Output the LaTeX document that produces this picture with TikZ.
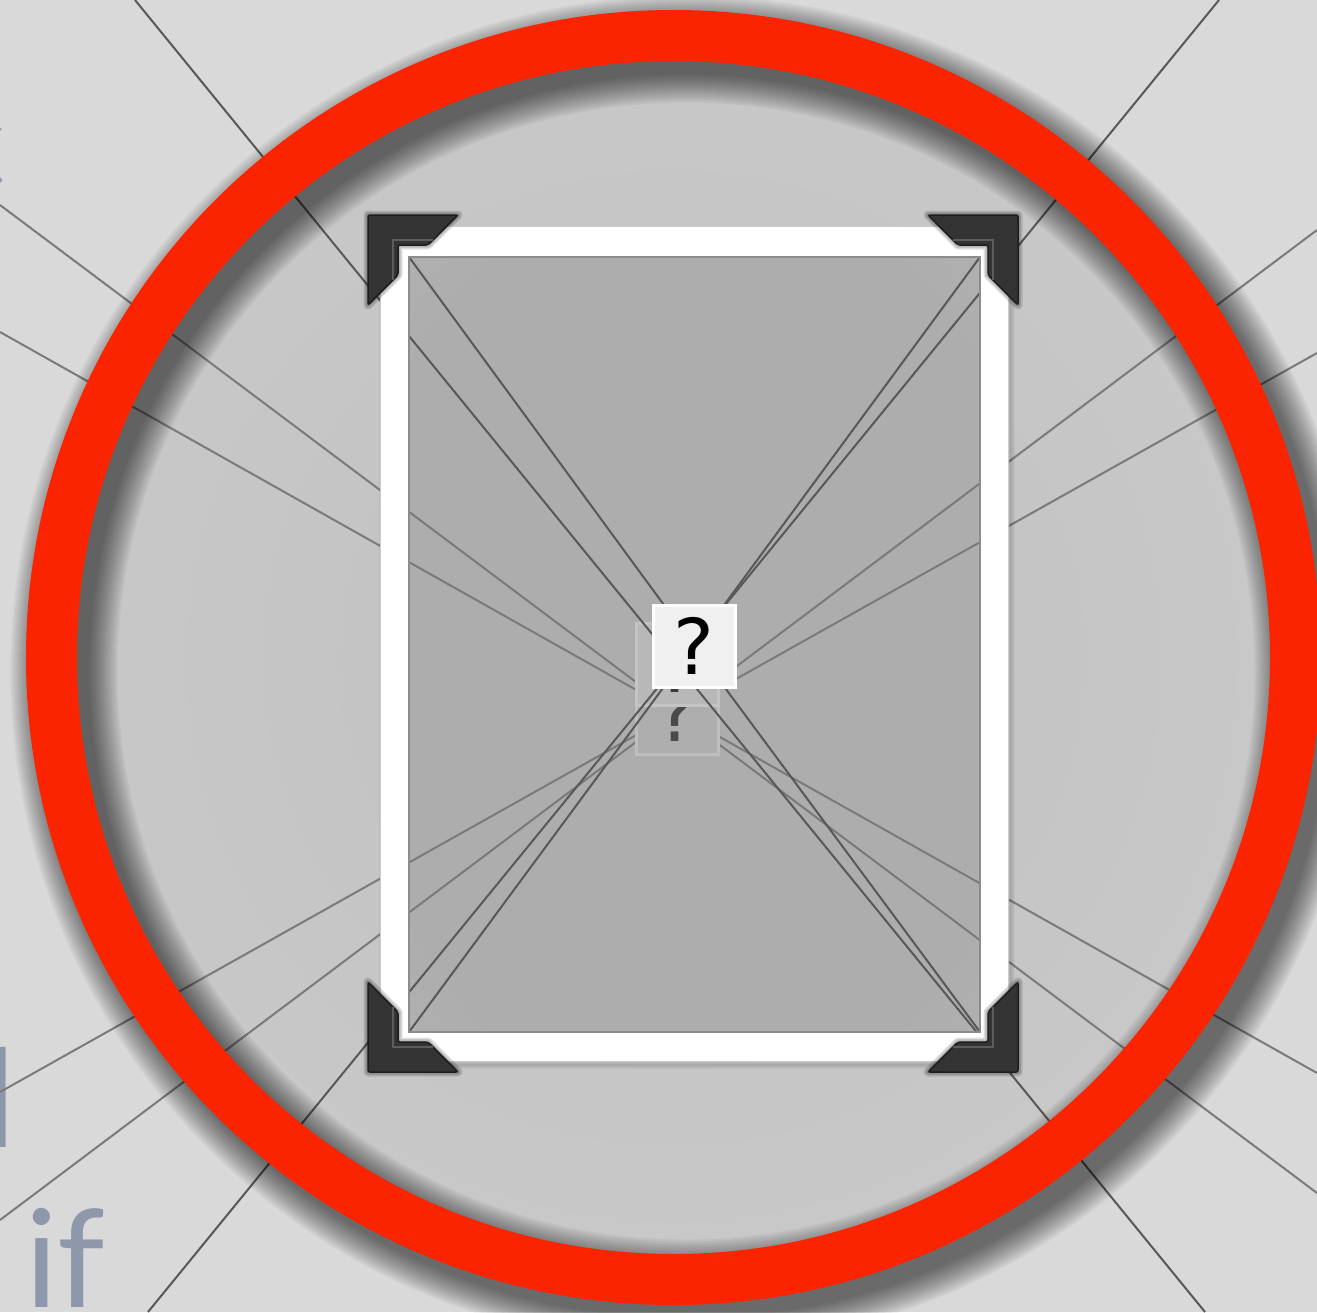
\documentclass[tikz,border=0pt]{standalone}
\usepackage{fontspec}
\newfontfamily\qfont{DejaVu Sans}
\newfontfamily\txtfont{Lato}
\definecolor{bgc}{RGB}{217,217,217}
\definecolor{ringc}{RGB}{250,36,0}
\definecolor{inA}{RGB}{192,192,192}
\definecolor{inM}{RGB}{200,200,200}
\definecolor{inN}{RGB}{210,210,210}
\definecolor{inB}{RGB}{216,216,216}
\definecolor{rectA}{RGB}{173,173,173}
\definecolor{rectB}{RGB}{184,184,184}
\definecolor{lineA}{RGB}{88,88,88}
\definecolor{lineB}{RGB}{122,122,122}
\definecolor{txtc}{RGB}{143,152,171}
\definecolor{rectbd}{RGB}{140,140,140}
\definecolor{box1c}{RGB}{184,184,184}
\definecolor{box1b}{RGB}{196,196,196}
\definecolor{box2c}{RGB}{174,174,174}
\definecolor{box2b}{RGB}{190,190,190}
\definecolor{q1c}{RGB}{58,58,58}
\definecolor{q2c}{RGB}{74,74,74}
\definecolor{frontc}{RGB}{240,240,240}
\definecolor{cornerc}{RGB}{52,52,52}
\definecolor{cornerd}{RGB}{30,30,30}
\definecolor{cornerh}{RGB}{92,92,92}
\pgfdeclareradialshading{circshade}{\pgfpoint{0bp}{0bp}}{color(0bp)=(inA); color(25bp)=(inM); color(40bp)=(inN); color(48bp)=(inB); color(50bp)=(inB)}
\pgfdeclareradialshading{rectshade}{\pgfpoint{0bp}{0bp}}{color(0bp)=(rectA); color(30bp)=(rectA); color(50bp)=(rectB)}
\newcommand\cornerpc{%
  \foreach \w in {3,6,9}{\draw[black, opacity=0.12, line width=\w pt, line join=round] (0,0) -- (90,0) -- (60,30) -- (30,30) -- (30,60) -- (0,90) -- cycle;}
  \draw[fill=cornerc, draw=cornerd, line width=1.5pt, rounded corners=2pt] (0,0) -- (90,0) -- (60,30) -- (30,30) -- (30,60) -- (0,90) -- cycle;
  \draw[cornerh, line width=1.5pt] (65,25) -- (25,25) -- (25,65);
}
\begin{document}
\begin{tikzpicture}[x=1pt,y=-1pt,
  gline/.style={lineA, line width=2pt},
  hline/.style={lineB, line width=2pt},
  qbox/.style={minimum width=82pt, minimum height=82pt, inner sep=0pt, line width=3pt, font=\qfont\fontsize{77}{80}\selectfont},
  letter/.style={txtc, inner sep=0pt, font=\txtfont\fontsize{136}{150}\selectfont}]
\useasboundingbox (0,0) rectangle (1317,1312);
\clip (0,0) rectangle (1317,1312);
\fill[bgc] (0,0) rectangle (1317,1312);
% text fragments
\node[letter, anchor=base east] (t1) at (7,190) {c};
\node[letter, anchor=base east] (t2) at (16,1147) {d};
\node[letter, anchor=base west] (t3) at (25,1307) {if};
% circle interior
\coordinate (cc) at (673.5,657.5);
\shade[shading=circshade] (cc) circle[radius=600pt];
% radial lines
\coordinate (a1) at (135,0);    \coordinate (a2) at (1205,1312);
\coordinate (b1) at (1219,0);   \coordinate (b2) at (148,1312);
\coordinate (c1) at (0,205);    \coordinate (c2) at (1317,1193);
\coordinate (d1) at (0,332);    \coordinate (d2) at (1317,1073);
\coordinate (e1) at (1317,230); \coordinate (e2) at (0,1220);
\coordinate (f1) at (1317,353); \coordinate (f2) at (0,1092);
\draw[gline] (a1) -- (a2);
\draw[gline] (b1) -- (b2);
\draw[hline] (c1) -- (c2);
\draw[hline] (d1) -- (d2);
\draw[hline] (e1) -- (e2);
\draw[hline] (f1) -- (f2);
% ring shadow
\coordinate (sc) at (686,671);
\foreach \k in {0,...,14}{\draw[black, opacity=0.042, line width={51pt+4pt*\k}] (sc) circle[radius=622pt];}
% ring
\draw[ringc, line width=51pt] (cc) circle[radius=622pt];
% frame
\coordinate (fo1) at (380,226); \coordinate (fo2) at (1008,1061);
\coordinate (fi1) at (409,257); \coordinate (fi2) at (980,1032);
\coordinate (fi3) at (980,257); \coordinate (fi4) at (409,1032);
\foreach \k in {1,...,4}{\draw[black, opacity=0.035, line width={2pt*\k}] ([shift={(3,4)}]fo1) rectangle ([shift={(3,4)}]fo2);}
\fill[white] (fo1) rectangle (fo2);
\draw[black!20, line width=1pt] (fo1) rectangle (fo2);
\shade[shading=rectshade] (fi1) rectangle (fi2);
\begin{scope}
  \clip (fi1) rectangle (fi2);
  \draw[hline] (c1) -- (c2);
  \draw[hline] (d1) -- (d2);
  \draw[hline] (e1) -- (e2);
  \draw[hline] (f1) -- (f2);
\end{scope}
% back boxes
\node[qbox, fill=box2c, draw=box2b, text=q2c] (q2) at (677,713) {?};
\node[qbox, fill=box1c, draw=box1b, text=q1c] (q1) at (677,664) {?};
\coordinate (qc) at (694,646);
\begin{scope}
  \clip (fi1) rectangle (fi2);
  \draw[gline] (a1) -- (a2);
  \draw[gline] (b1) -- (b2);
  \draw[gline] (fi1) -- (qc);
  \draw[gline] (fi3) -- (qc);
  \draw[gline] (fi4) -- (qc);
  \draw[gline] (fi2) -- (qc);
\end{scope}
\draw[rectbd, line width=1.5pt] (fi1) rectangle (fi2);
% front box
\node[qbox, fill=frontc, draw=white, text=black] (q0) at (qc) {?};
% corner pieces
\begin{scope}[shift={(368,215)}] \cornerpc \end{scope}
\begin{scope}[shift={(1018,215)}, xscale=-1] \cornerpc \end{scope}
\begin{scope}[shift={(368,1072)}, yscale=-1] \cornerpc \end{scope}
\begin{scope}[shift={(1018,1072)}, xscale=-1, yscale=-1] \cornerpc \end{scope}
\end{tikzpicture}
\end{document}
